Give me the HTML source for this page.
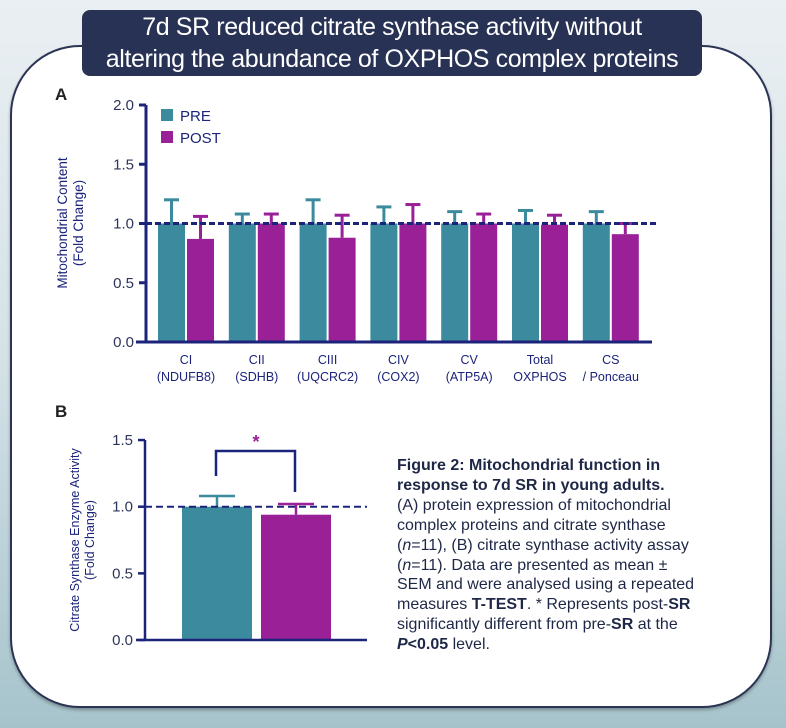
<!DOCTYPE html>
<html><head><meta charset="utf-8"><style>
html,body{margin:0;padding:0}
body{width:786px;height:728px;overflow:hidden;background:linear-gradient(#eaeff3 0%,#d4e2e7 50%,#a6c3cb 100%);position:relative;font-family:"Liberation Sans",sans-serif}
#card{position:absolute;left:10px;top:45px;width:762px;height:663px;background:#fff;border:2px solid #2b3455;border-radius:70px;box-sizing:border-box;box-shadow:0 2px 3px rgba(0,0,0,.3)}
#title{position:absolute;left:82px;top:10px;width:620px;height:66px;background:#283255;border-radius:8px;color:#fff;text-align:center;font-size:25px;line-height:32px;padding-top:1px;box-sizing:border-box;letter-spacing:-0.4px;white-space:nowrap}
#cap{position:absolute;left:397px;top:456px;font-size:16px;line-height:19.9px;color:#1e2746;letter-spacing:0;white-space:nowrap}
svg{position:absolute;left:0;top:0}
</style></head><body>
<div id="card"></div>
<div id="title">7d SR reduced citrate synthase activity without<br>altering the abundance of OXPHOS complex proteins</div>
<svg id="chart" width="786" height="728"></svg>
<div id="cap"><b>Figure 2: Mitochondrial function in</b><br><b>response to 7d SR in young adults.</b><br>(A) protein expression of mitochondrial<br>complex proteins and citrate synthase<br>(<i>n</i>=11), (B) citrate synthase activity assay<br>(<i>n</i>=11). Data are presented as mean ±<br>SEM and were analysed using a repeated<br>measures <b>T-TEST</b>. * Represents post-<b>SR</b><br>significantly different from pre-<b>SR</b> at the<br><b><i>P</i>&lt;0.05</b> level.</div>
<script>
const catsA1=["CI","CII","CIII","CIV","CV","Total","CS"];
const catsA2=["(NDUFB8)","(SDHB)","(UQCRC2)","(COX2)","(ATP5A)","OXPHOS","/ Ponceau"];
const preA=[1,1,1,1,1,1,1];
const preErrA=[0.20,0.08,0.20,0.14,0.10,0.11,0.10];
const postA=[0.87,1.0,0.88,1.0,1.0,0.99,0.91];
const postErrA=[0.19,0.08,0.19,0.16,0.08,0.08,0.09];
const ticksA=[0,0.5,1.0,1.5,2.0];
const preB=[1.0], preErrB=[0.08], postB=[0.94], postErrB=[0.08];
const ticksB=[0,0.5,1.0,1.5];
const NAVY="#1b237a",TEAL="#3b8a9d",MAG="#9a2098",TXT="#2f3559";
const svg=document.getElementById('chart');
function el(t,a,p){const e=document.createElementNS("http://www.w3.org/2000/svg",t);for(const k in a)e.setAttribute(k,a[k]);(p||svg).appendChild(e);return e;}
function txt(x,y,s,a,p){const e=el('text',Object.assign({x:x,y:y},a),p);e.textContent=s;return e;}
// Chart A
const yA=v=>342-v*118.5, xA=i=>186+i*70.8;
const gA=el('g',{});


txt(55,100,"A",{'font-size':17,'font-weight':'bold',fill:'#222'},gA);
ticksA.forEach(t=>{el('line',{x1:139,x2:146,y1:yA(t),y2:yA(t),stroke:NAVY,'stroke-width':3},gA);
 const l=txt(134,yA(t)+5,t.toFixed(1),{'font-size':15,fill:TXT,'text-anchor':'end'},gA);
 });
const yt=txt(0,0,"",{transform:'translate(70,223) rotate(-90)','font-size':13.5,fill:NAVY,'text-anchor':'middle'},gA);

el('tspan',{x:0,dy:-3},yt).textContent="Mitochondrial Content";
el('tspan',{x:0,dy:16},yt).textContent="(Fold Change)";
catsA1.forEach((c,i)=>{const cx=xA(i);
 const draw=(x,v,e,col,nm)=>{el('line',{x1:x+13.5,x2:x+13.5,y1:yA(v),y2:yA(v+e),stroke:col,'stroke-width':3},gA);
  el('line',{x1:x+6,x2:x+21,y1:yA(v+e),y2:yA(v+e),stroke:col,'stroke-width':3},gA);
  const b=el('rect',{x:x,y:yA(v),width:27,height:yA(0)-yA(v),fill:col},gA);
  };
 draw(cx-28,preA[i],preErrA[i],TEAL,'bar-pre-'+c.toLowerCase());
 draw(cx+1,postA[i],postErrA[i],MAG,'bar-post-'+c.toLowerCase());
 const l=txt(cx,364,c,{'font-size':12.5,fill:NAVY,'text-anchor':'middle'},gA);
 
 txt(cx,381,catsA2[i],{'font-size':12.5,fill:NAVY,'text-anchor':'middle'},gA);
});
el('line',{x1:146,x2:146,y1:yA(2),y2:yA(0)+1.5,stroke:NAVY,'stroke-width':3},gA);
el('line',{x1:136,x2:652,y1:yA(0),y2:yA(0),stroke:NAVY,'stroke-width':3},gA);
el('line',{x1:146,x2:657,y1:yA(1),y2:yA(1),stroke:NAVY,'stroke-width':3,'stroke-dasharray':'6 3'},gA);
[[TEAL,"PRE",116],[MAG,"POST",138]].forEach(([c,s,y])=>{const r=el('rect',{x:161,y:y-7,width:12,height:12,fill:c},gA);
 
 const t=txt(180,y+5,s,{'font-size':15,fill:NAVY},gA);
 });
// Chart B
const yB=v=>640-v*133.3;
const gB=el('g',{});


txt(55,417,"B",{'font-size':17,'font-weight':'bold',fill:'#222'},gB);
ticksB.forEach(t=>{el('line',{x1:138,x2:145,y1:yB(t),y2:yB(t),stroke:NAVY,'stroke-width':2.5},gB);
 const l=txt(133,yB(t)+5,t.toFixed(1),{'font-size':15,fill:TXT,'text-anchor':'end'},gB);
 });
const yt2=txt(0,0,"",{transform:'translate(82,540) rotate(-90)','font-size':12.5,fill:NAVY,'text-anchor':'middle'},gB);

el('tspan',{x:0,dy:-3},yt2).textContent="Citrate Synthase Enzyme Activity";
el('tspan',{x:0,dy:15},yt2).textContent="(Fold Change)";
const drawB=(x,v,e,col,nm)=>{el('line',{x1:x+35,x2:x+35,y1:yB(v),y2:yB(v+e),stroke:col,'stroke-width':2.5},gB);
 el('line',{x1:x+17,x2:x+53,y1:yB(v+e),y2:yB(v+e),stroke:col,'stroke-width':2.5},gB);
 const b=el('rect',{x:x,y:yB(v),width:70,height:yB(0)-yB(v),fill:col},gB);
 };
drawB(182,preB[0],preErrB[0],TEAL,'bar-pre-cs');
drawB(261,postB[0],postErrB[0],MAG,'bar-post-cs');
el('line',{x1:145,x2:145,y1:yB(1.5),y2:yB(0)+1,stroke:NAVY,'stroke-width':2.5},gB);
el('line',{x1:136,x2:367,y1:yB(0),y2:yB(0),stroke:NAVY,'stroke-width':2.5},gB);
el('line',{x1:145,x2:367,y1:yB(1),y2:yB(1),stroke:NAVY,'stroke-width':2,'stroke-dasharray':'7 4'},gB);
const br=el('polyline',{points:'216,476 216,451 295,451 295,492',fill:'none',stroke:NAVY,'stroke-width':2.5},gB);

const st=txt(256,448,"*",{'font-size':18,'font-weight':'bold',fill:MAG,'text-anchor':'middle'},gB);

</script>
</body></html>
